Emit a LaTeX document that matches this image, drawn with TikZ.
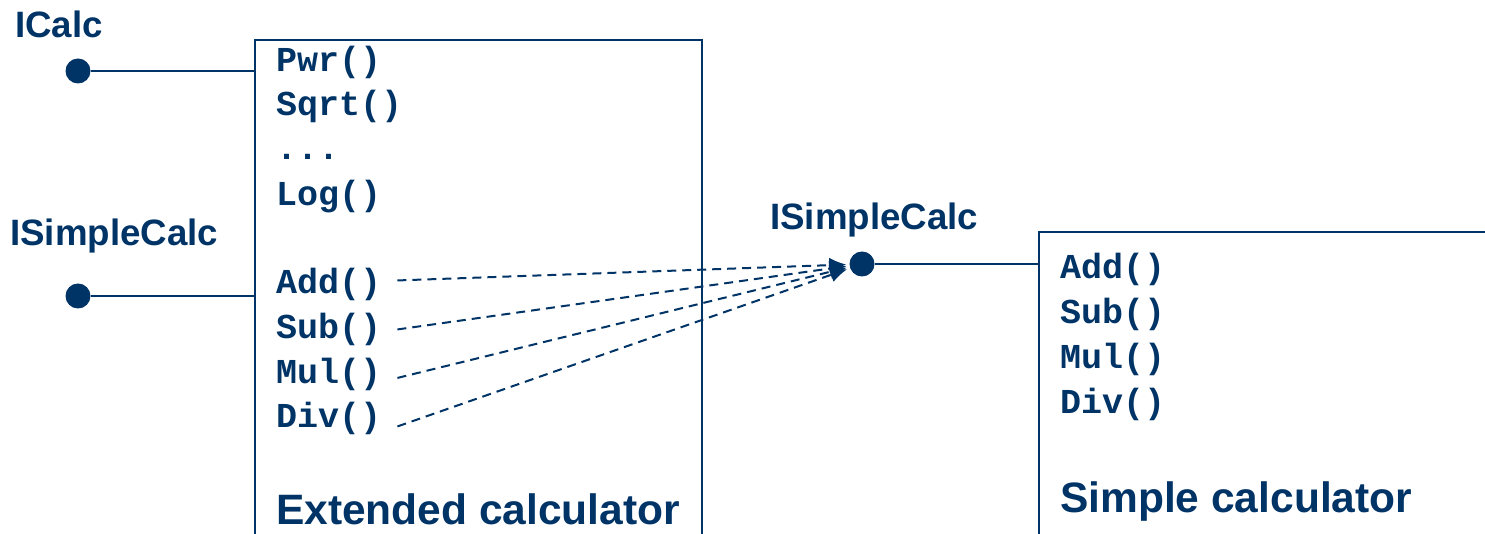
\documentclass[tikz,border=0pt]{standalone}
\usepackage{fontspec}
\setmainfont{Liberation Sans}
\setmonofont{Liberation Mono}
\usetikzlibrary{arrows.meta,positioning}
\definecolor{CalcBlue}{RGB}{0,51,102}
\tikzset{
  boxline/.style={line width=2.2pt, draw=CalcBlue},
  ifline/.style={line width=2.2pt, draw=CalcBlue},
  ifdot/.style={circle, fill=CalcBlue, inner sep=0pt, minimum size=25pt},
  iflab/.style={font=\fontsize{36.7}{40}\selectfont\bfseries, text=CalcBlue, inner sep=0pt, anchor=base west},
  boxlab/.style={font=\fontsize{42.5}{46}\selectfont\bfseries, text=CalcBlue, inner sep=0pt, anchor=base west},
  meth/.style={font=\fontsize{35}{38}\selectfont\ttfamily\bfseries, text=CalcBlue, inner sep=0pt, anchor=base west},
  delegate/.style={-{Latex[length=17pt,width=15pt]}, line width=2pt, draw=CalcBlue, dash pattern=on 9pt off 6pt, shorten >=3pt}
}
\begin{document}
\begin{tikzpicture}[x=1pt,y=-1pt]
  \useasboundingbox (0,0) rectangle (1485,534);
  % open boxes of the two components
  \draw[boxline] (255,534) -- (255,40) -- (702,40) -- (702,534);
  \draw[boxline] (1039,534) -- (1039,232) -- (1485,232);
  \coordinate (extpin1) at (255,71);
  \coordinate (extpin2) at (255,296);
  \coordinate (smppin) at (1039,264);
  % interfaces
  \node[iflab] (icalc) at (15,38) {ICalc};
  \node[ifdot] (icalcdot) at (78,71) {};
  \draw[ifline] (icalcdot) -- (extpin1);
  \node[iflab] (isimple) at (10,246) {ISimpleCalc};
  \node[ifdot] (isimpledot) at (78,296) {};
  \draw[ifline] (isimpledot) -- (extpin2);
  \node[iflab] (smplab) at (770,230) {ISimpleCalc};
  \node[ifdot] (midot) at (862,264) {};
  \draw[ifline] (midot) -- (smppin);
  % methods
  \foreach \m/\y in {Pwr/71.5,Sqrt/116,Log/206,Add/293.5,Sub/338.5,Mul/383,Div/427.5}
    \node[meth] (ext\m) at (276,\y) {\m()};
  \node[meth] (extdots) at (276,160) {...};
  \foreach \m/\y in {Add/279,Sub/324,Mul/368.5,Div/413}
    \node[meth] (smp\m) at (1060,\y) {\m()};
  \node[boxlab] (extname) at (276,524.5) {Extended calculator};
  \node[boxlab] (smpname) at (1060,512) {Simple calculator};
  % delegation
  \foreach \m/\dy in {Add/4,Sub/0,Mul/-4,Div/-8}
    \draw[delegate] ([xshift=16pt,yshift=\dy pt]ext\m.east) -- (midot);
\end{tikzpicture}
\end{document}
